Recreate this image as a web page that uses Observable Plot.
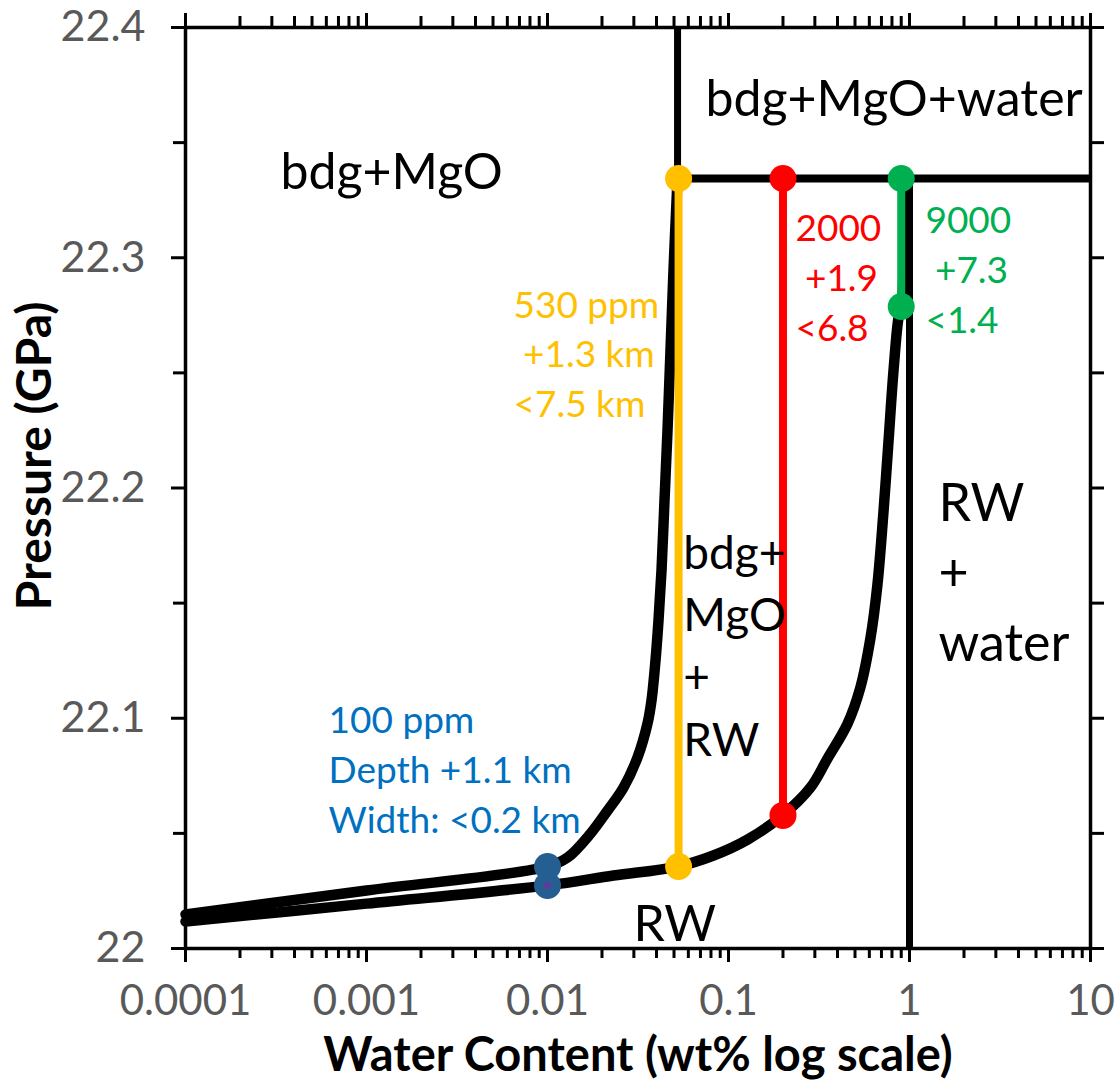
<!DOCTYPE html>
<html><head><meta charset="utf-8">
<script src="https://cdn.jsdelivr.net/npm/d3@7"></script>
<script src="https://cdn.jsdelivr.net/npm/@observablehq/plot@0.6"></script>
<style>body{margin:0;background:#fff}</style>
</head><body><div id="chart"></div>
<script>
// Upper boundary: bdg+MgO / bdg+MgO+RW
const upperWt = [0.0001, 0.001, 0.01, 0.0129, 0.01728, 0.02146, 0.0263, 0.03143, 0.03569, 0.03755, 0.03951, 0.04105, 0.04265, 0.0443, 0.04603, 0.04781, 0.04967, 0.0523];
const upperP  = [22.0148, 22.0252, 22.0356, 22.0395, 22.0499, 22.0599, 22.0699, 22.083, 22.0977, 22.1077, 22.1251, 22.1425, 22.1642, 22.1946, 22.225, 22.2597, 22.2945, 22.3344];
// Lower boundary: RW / bdg+MgO+RW
const lowerWt = [0.0001, 0.001, 0.01, 0.02315, 0.0523, 0.0826, 0.1274, 0.1986, 0.2838, 0.3524, 0.4539, 0.5355, 0.6095, 0.6652, 0.7178, 0.7656, 0.817, 0.8717, 0.9035, 0.93];
const lowerP  = [22.0117, 22.0195, 22.0274, 22.0317, 22.0356, 22.0404, 22.0473, 22.0578, 22.0699, 22.0825, 22.0975, 22.1134, 22.1351, 22.1581, 22.1894, 22.2202, 22.2515, 22.2745, 22.2788, 22.3344];
// Straight phase boundaries
const waterSatP = 22.3344;     // horizontal boundary
const bdgWt = 0.0523;          // vertical boundary above waterSatP
const rwWaterWt = 1;           // vertical boundary RW / RW+water
// Samples
const sampleWt     = [0.01, 0.053, 0.2, 0.9];
const sampleTop    = [22.0356, 22.3344, 22.3344, 22.3344];
const sampleBottom = [22.0274, 22.0356, 22.0578, 22.2788];
const sampleColor  = ["#255E91", "#FFC000", "#FF0000", "#00B050"];
// Notes next to samples
const noteText = ["100 ppm\nDepth +1.1 km\nWidth: <0.2 km", "530 ppm\n\u00a0+1.3 km\n<7.5 km", "2000\n\u00a0+1.9\n<6.8", "9000\n\u00a0+7.3\n<1.4"];
const noteWt   = [0.000617, 0.00649, 0.2344, 1.225];
const noteP    = [22.079, 22.2593, 22.2925, 22.2958];
const noteColor = ["#0070C0", "#FFC000", "#FF0000", "#00B050"];
// Phase field labels
const fieldText = ["bdg+MgO", "bdg+MgO+water", "RW"];
const fieldWt   = [0.000335, 0.0747, 0.02985];
const fieldP    = [22.337, 22.3683, 22.01];
const midText = ["bdg+\nMgO\n+\nRW"], midWt = [0.0563], midP = [22.1329];
const rightText = ["RW\n+\nwater"], rightWt = [1.446], rightP = [22.165];
// Ticks
const xMajor = [0.0001, 0.001, 0.01, 0.1, 1, 10];
const xMinorMult = [2, 3, 4, 5, 6, 7, 8, 9];
const yMajor = [22, 22.1, 22.2, 22.3, 22.4];
const yMinor = [22.05, 22.15, 22.25, 22.35];
const xTitle = "Water Content (wt% log scale)";
const yTitle = "Pressure (GPa)";

const xMinor = xMajor.slice(0, -1).flatMap(d => xMinorMult.map(m => +(d * m).toPrecision(3)));
const upper = upperWt.map((w, i) => ({w, p: upperP[i]}));
const lower = lowerWt.map((w, i) => ({w, p: lowerP[i]}));
const samples = sampleWt.map((w, i) => ({w, top: sampleTop[i], bottom: sampleBottom[i], color: sampleColor[i]}));
const notes = noteText.map((t, i) => ({t, w: noteWt[i], p: noteP[i], c: noteColor[i]}));
const fields = fieldText.map((t, i) => ({t, w: fieldWt[i], p: fieldP[i]}));
const dots = samples.flatMap(s => [{w: s.w, p: s.top, color: s.color}, {w: s.w, p: s.bottom, color: s.color}]);
const noLabel = () => "";
const tickStyle = {stroke: "#000", strokeWidth: 3, label: null};

const chart = Plot.plot({
  width: 1120, height: 1086,
  marginLeft: 185, marginRight: 30, marginTop: 27, marginBottom: 138,
  style: {fontFamily: "Lato, sans-serif", background: "#fff", overflow: "visible"},
  x: {type: "log", domain: [0.0001, 10]},
  y: {domain: [22, 22.4]},
  marks: [
    // axes
    Plot.axisX(xMajor, {...tickStyle, anchor: "bottom", tickSize: 14, tickPadding: 23, fontSize: 42, fill: "#595959", tickFormat: d => String(d)}),
    Plot.axisX(xMinor, {...tickStyle, anchor: "bottom", tickSize: 10, tickFormat: noLabel}),
    Plot.axisX(xMajor, {...tickStyle, anchor: "top", tickSize: 15, tickFormat: noLabel}),
    Plot.axisX(xMinor, {...tickStyle, anchor: "top", tickSize: 12, tickFormat: noLabel}),
    Plot.axisY(yMajor, {...tickStyle, anchor: "left", tickSize: 14, tickPadding: 26, fontSize: 43, fill: "#595959", tickFormat: d => String(+d.toFixed(1))}),
    Plot.axisY(yMinor, {...tickStyle, anchor: "left", tickSize: 12, tickFormat: noLabel}),
    Plot.axisY(yMajor.concat(yMinor), {...tickStyle, anchor: "right", tickSize: 13, tickFormat: noLabel}),
    Plot.frame({stroke: "#000", strokeWidth: 3.5}),
    // axis titles
    Plot.text([xTitle], {frameAnchor: "bottom", dy: 107, lineAnchor: "middle", fontSize: 47, fontWeight: "bold", fill: "#000"}),
    Plot.text([yTitle], {frameAnchor: "left", dx: -150, dy: -32, rotate: -90, lineAnchor: "middle", textAnchor: "middle", fontSize: 48, fontWeight: "bold", fill: "#000"}),
    // phase boundaries
    Plot.line(lower, {x: "w", y: "p", stroke: "#000", strokeWidth: 10.5, curve: "catmull-rom"}),
    Plot.line(upper, {x: "w", y: "p", stroke: "#000", strokeWidth: 10.5, curve: "catmull-rom"}),
    Plot.ruleX([bdgWt], {y1: waterSatP, y2: 22.4, stroke: "#000", strokeWidth: 7}),
    Plot.ruleY([waterSatP], {x1: bdgWt, x2: 10, stroke: "#000", strokeWidth: 8}),
    Plot.ruleX([rwWaterWt], {y1: 22, y2: waterSatP, stroke: "#000", strokeWidth: 7}),
    // samples
    Plot.ruleX(samples, {x: "w", y1: "bottom", y2: "top", stroke: "color", strokeWidth: 8}),
    Plot.dot(dots, {x: "w", y: "p", fill: "color", r: 13.5}),
    Plot.dot([{w: sampleWt[0], p: sampleBottom[0]}], {x: "w", y: "p", fill: "#7030A0", r: 3}),
    // labels
    Plot.text(notes, {x: "w", y: "p", text: "t", fill: "c", fontSize: 37, lineHeight: 1.35, textAnchor: "start", lineAnchor: "middle"}),
    Plot.text(fields, {x: "w", y: "p", text: "t", fill: "#000", fontSize: 50, textAnchor: "start", lineAnchor: "middle"}),
    Plot.text(midText, {x: midWt, y: midP, text: d => d, fill: "#000", fontSize: 46, lineHeight: 1.35, textAnchor: "start", lineAnchor: "middle"}),
    Plot.text(rightText, {x: rightWt, y: rightP, text: d => d, fill: "#000", fontSize: 52, lineHeight: 1.35, textAnchor: "start", lineAnchor: "middle"})
  ]
});
document.getElementById("chart").appendChild(chart);
</script>
</body></html>
